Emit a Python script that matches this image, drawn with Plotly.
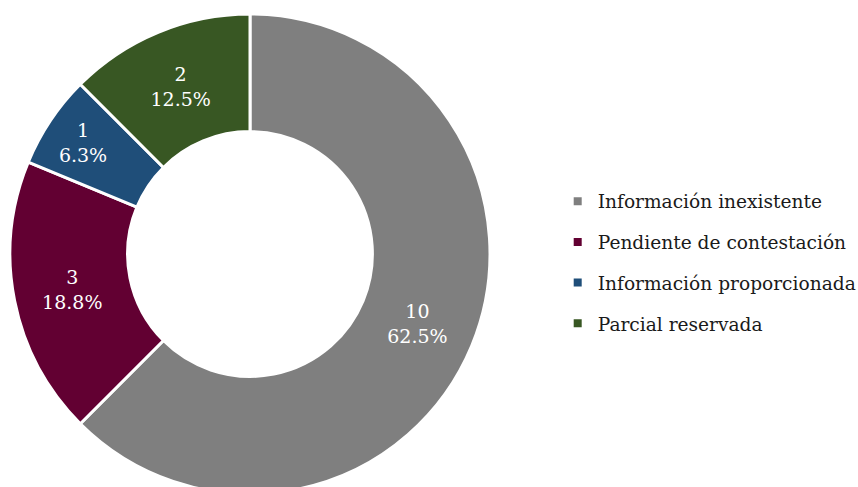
import plotly.graph_objects as go

categories = ["Información inexistente", "Pendiente de contestación",
              "Información proporcionada", "Parcial reservada"]
values = [10, 3, 1, 2]
colors = ["#7f7f7f", "#620032", "#1f4e79", "#385723"]

FONT = "DejaVu Serif"

fig = go.Figure()
fig.add_trace(go.Pie(
    labels=categories,
    values=values,
    sort=False,
    direction="clockwise",
    rotation=0,
    hole=0.51,
    marker=dict(colors=colors, line=dict(color="white", width=3)),
    texttemplate="%{value}<br>%{percent:.1%}",
    textposition="inside",
    insidetextorientation="horizontal",
    textfont=dict(family=FONT, size=19, color="white"),
    domain=dict(x=[0, 500 / 858], y=[0, 1]),
    showlegend=False,
    hoverinfo="label+value+percent",
))

# legend entries, one group per category so spacing can be controlled
for cat, col in zip(categories, colors):
    fig.add_trace(go.Scatter(
        x=[None], y=[None], mode="markers",
        marker=dict(symbol="square", size=8, color=col),
        name=cat, legendgroup=cat, showlegend=True, hoverinfo="skip",
    ))

fig.update_layout(
    width=858, height=494,
    margin=dict(l=0, r=0, t=14, b=0, autoexpand=False),
    paper_bgcolor="white", plot_bgcolor="white",
    font=dict(family=FONT, size=18.6, color="#1a1a1a"),
    xaxis=dict(visible=False), yaxis=dict(visible=False),
    legend=dict(
        x=0.650, xanchor="left", y=0.482, yanchor="middle",
        tracegroupgap=13.5, font=dict(family=FONT, size=18.6, color="#1a1a1a"),
        bgcolor="rgba(0,0,0,0)", itemclick=False, itemdoubleclick=False,
    ),
)

fig.write_html("out.html", config={"displayModeBar": False},
               post_script="document.body.style.margin='0';document.body.style.overflow='hidden';")
